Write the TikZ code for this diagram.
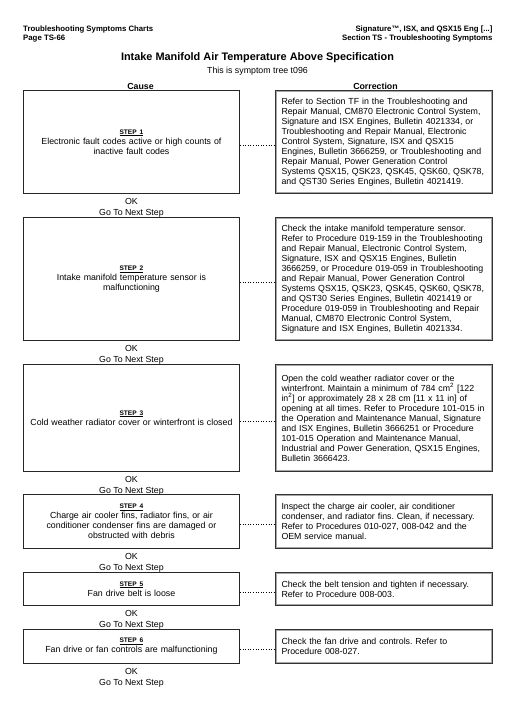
\documentclass[tikz,border=0pt]{standalone}
\usepackage{fontspec}
\setmainfont{Liberation Sans}
\frenchspacing
\begin{document}
\begin{tikzpicture}[x=1pt,y=-1pt,
  every node/.style={inner sep=0pt},
  body/.style={font=\frenchspacing\fontsize{8.8}{10}\selectfont},
  hdr/.style={font=\bfseries\fontsize{7.8}{9}\selectfont},
  causebox/.style={draw=black!85,line width=0.9pt,body,align=center,text width=205pt,
    minimum width=216pt,inner xsep=5.5pt,anchor=north west},
  corrbox/.style={draw=black!80,line width=1pt,body,align=left,text width=205pt,
    minimum width=217pt,inner xsep=6pt,anchor=north west},
  innerline/.style={draw=black!35,line width=0.6pt},
  link/.style={dotted,line width=0.6pt},
  oktext/.style={body}
]
\useasboundingbox (0,0) rectangle (528,710);
\fill[white] (0,0) rectangle (528,710);
\newcommand{\stepl}[1]{{\bfseries\fontsize{6.6}{10}\selectfont\underline{STEP #1}}}
% header
\node[hdr,anchor=west,align=left] (hl1) at (23,29.3) {Troubleshooting Symptoms Charts};
\node[hdr,anchor=west,align=left] (hl2) at (23,38.3) {Page TS-66};
\node[hdr,anchor=east,align=right] (hr1) at (492.7,29.3) {Signature™, ISX, and QSX15 Eng [...]};
\node[hdr,anchor=east,align=right] (hr2) at (492.7,38.3) {Section TS - Troubleshooting Symptoms};
\node[font=\bfseries\fontsize{10.9}{12}\selectfont] (title) at (257.5,57.3) {Intake Manifold Air Temperature Above Specification};
\node[body] (sub) at (257.5,71.7) {This is symptom tree t096};
\node[font=\bfseries\fontsize{8.8}{10}\selectfont] (hcause) at (140.5,86) {Cause};
\node[font=\bfseries\fontsize{8.8}{10}\selectfont] (hcorr) at (375.5,86) {Correction};

% generic step macro
\newcommand{\mystep}[6]{%
  % #1 id, #2 top, #3 height, #4 step no, #5 cause text, #6 correction text
  \node[causebox,minimum height=#3 pt] (c#1) at (23,#2) {\stepl{#4}\\#5};
  \node[corrbox,minimum height=#3 pt] (r#1) at (275,#2) {#6};
  \draw[innerline] ([shift={(1.3pt,-1.3pt)}]r#1.north west) rectangle ([shift={(-1.3pt,1.3pt)}]r#1.south east);
  \draw[link] ([yshift=-3pt]c#1.east) -- ([yshift=-3pt]c#1.east -| r#1.west);
  \node[oktext] (ok#1) at ([yshift=-7.5pt]c#1.south) {OK};
  \node[oktext] (go#1) at ([yshift=-19.5pt]c#1.south) {Go To Next Step};
}

\mystep{1}{90}{103}{1}{Electronic fault codes active or high counts of\\inactive fault codes}
{Refer to Section TF in the Troubleshooting and\\
Repair Manual, CM870 Electronic Control System,\\
Signature and ISX Engines, Bulletin 4021334, or\\
Troubleshooting and Repair Manual, Electronic\\
Control System, Signature, ISX and QSX15\\
Engines, Bulletin 3666259, or Troubleshooting and\\
Repair Manual, Power Generation Control\\
Systems QSX15, QSK23, QSK45, QSK60, QSK78,\\
and QST30 Series Engines, Bulletin 4021419.}

\mystep{2}{217}{123}{2}{Intake manifold temperature sensor is\\malfunctioning}
{Check the intake manifold temperature sensor.\\
Refer to Procedure 019-159 in the Troubleshooting\\
and Repair Manual, Electronic Control System,\\
Signature, ISX and QSX15 Engines, Bulletin\\
3666259, or Procedure 019-059 in Troubleshooting\\
and Repair Manual, Power Generation Control\\
Systems QSX15, QSK23, QSK45, QSK60, QSK78,\\
and QST30 Series Engines, Bulletin 4021419 or\\
Procedure 019-059 in Troubleshooting and Repair\\
Manual, CM870 Electronic Control System,\\
Signature and ISX Engines, Bulletin 4021334.}

\mystep{3}{364}{107}{3}{Cold weather radiator cover or winterfront is closed}
{Open the cold weather radiator cover or the\\
winterfront. Maintain a minimum of 784 cm\textsuperscript{2} [122\\
in\textsuperscript{2}] or approximately 28 x 28 cm [11 x 11 in] of\\
opening at all times. Refer to Procedure 101-015 in\\
the Operation and Maintenance Manual, Signature\\
and ISX Engines, Bulletin 3666251 or Procedure\\
101-015 Operation and Maintenance Manual,\\
Industrial and Power Generation, QSX15 Engines,\\
Bulletin 3666423.}

\mystep{4}{494}{54}{4}{Charge air cooler fins, radiator fins, or air\\conditioner condenser fins are damaged or\\obstructed with debris}
{Inspect the charge air cooler, air conditioner\\
condenser, and radiator fins. Clean, if necessary.\\
Refer to Procedures 010-027, 008-042 and the\\
OEM service manual.}

\mystep{5}{572}{33}{5}{Fan drive belt is loose}
{Check the belt tension and tighten if necessary.\\
Refer to Procedure 008-003.}

\mystep{6}{629}{34}{6}{Fan drive or fan controls are malfunctioning}
{Check the fan drive and controls. Refer to\\
Procedure 008-027.}
\end{tikzpicture}
\end{document}
